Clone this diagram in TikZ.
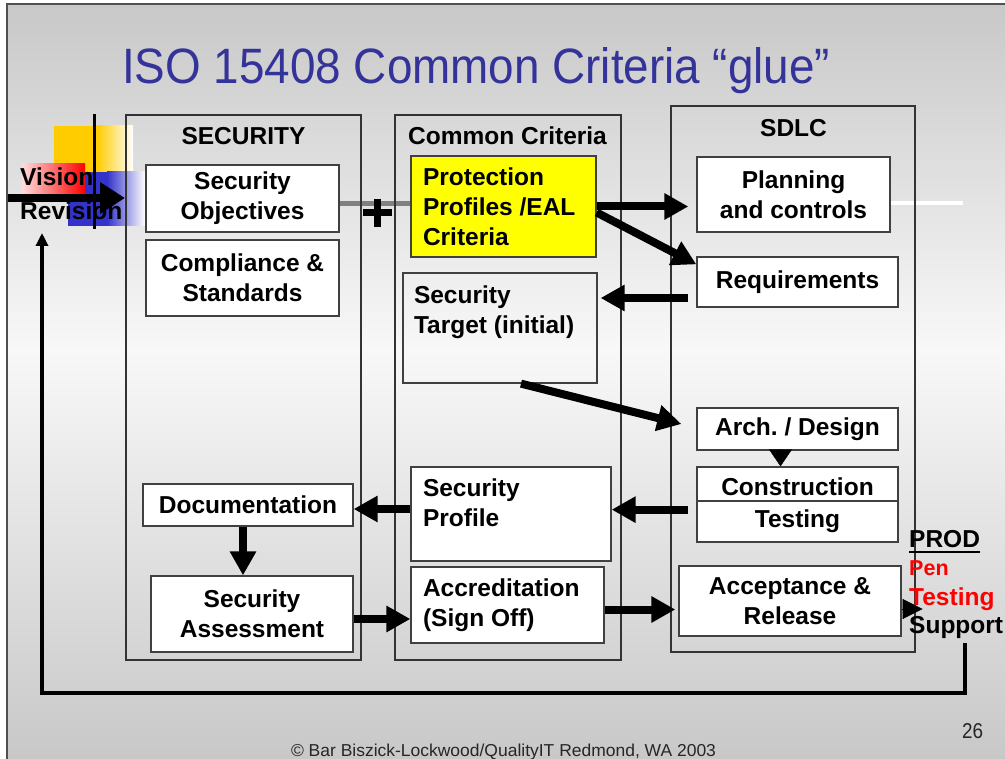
\documentclass[tikz,border=0pt]{standalone}
\usepackage{fontspec}
\setmainfont{Liberation Sans}
\usetikzlibrary{arrows.meta}
\frenchspacing

\definecolor{titleblue}{RGB}{51,51,153}
\definecolor{bgdark}{RGB}{200,200,200}
\definecolor{bglight}{RGB}{248,248,248}
\definecolor{boxline}{RGB}{64,64,64}
\definecolor{ppyellow}{RGB}{255,255,0}
\definecolor{decoyellow}{RGB}{255,204,0}
\definecolor{decoblue}{RGB}{51,51,204}
\definecolor{decopink}{RGB}{255,220,220}
\definecolor{guide}{RGB}{128,128,128}
\definecolor{framegray}{RGB}{80,80,80}

\begin{document}
\begin{tikzpicture}[x=1pt,y=-1pt,
  lbl/.style={font=\fontsize{24.5}{30}\selectfont\bfseries, inner sep=0pt},
  box/.style={draw=boxline, line width=1.3pt, fill=white,
    font=\fontsize{24.5}{30}\selectfont\bfseries, align=center, inner sep=0pt},
  lbox/.style={box, align=flush left, inner xsep=12pt},
  column/.style={draw=black!80, line width=1.1pt, inner sep=0pt},
  bigarrow/.style={line width=8pt, -{Triangle[width=25pt,length=24pt]}},
  tiparrow/.style={line width=0.4pt, -{Triangle[width=20pt,length=20pt]}},
  fbarrow/.style={line width=3.5pt, -{Triangle[width=12pt,length=13pt]}},
]
\useasboundingbox (0,0) rectangle (1005,759);

% slide background
\fill[white] (0,0) rectangle (1005,759);
\shade[top color=bgdark, bottom color=bglight] (7,4) rectangle (1005,350);
\shade[top color=bglight, bottom color=bgdark] (7,350) rectangle (1005,759);
\draw[framegray, line width=1.5pt] (7,759) -- (7,4) -- (1005,4);

% template guide lines
\draw[guide, line width=4.5pt] (125,203.5) -- (411,203.5);
\draw[white, line width=4pt] (890,203) -- (963,203);

% title
\node[anchor=base west, inner sep=0pt, text=titleblue] (title) at (122,84)
  {\resizebox{708pt}{36pt}{\fontsize{46}{46}\selectfont ISO 15408 Common Criteria “glue”}};

% corner decoration
\fill[decoyellow] (54,126) rectangle (97,172);
\shade[left color=decoyellow, right color=white] (97,126) rectangle (133,172);
\fill[decoblue] (68,172) rectangle (107,226);
\shade[left color=decoblue, right color=white] (107,172) rectangle (145,226);
\shade[left color=decopink, right color=red] (22,164) rectangle (85,197);
\draw[black, line width=3pt] (94,114) -- (94,229);
\coordinate (vstart) at (8,198);
\coordinate (vend) at (125,198);
\draw[line width=8pt, -{Triangle[width=30pt,length=25pt]}] (vstart) -- (vend);
\node[lbl, anchor=base west] (vision) at (20,186) {Vision};
\node[lbl, anchor=base west] (revision) at (20,220) {Revision};

% columns
\node[column, minimum width=235pt, minimum height=545pt] (colsec) at (243.5,387.5) {};
\node[column, minimum width=226pt, minimum height=545pt] (colcc) at (508,387.5) {};
\node[column, minimum width=244pt, minimum height=546pt] (colsdlc) at (793,379) {};
\node[lbl, anchor=base] (hsec) at (243.5,145) {SECURITY};
\node[lbl, anchor=base] (hcc) at (507.5,145) {Common Criteria};
\node[lbl, anchor=base] (hsdlc) at (793.5,137) {SDLC};

% plus sign
\draw[line width=7pt] (363,213) -- (392,213);
\draw[line width=7pt] (377.5,199) -- (377.5,227);

% security column
\node[box, minimum width=193pt, minimum height=67pt] (secobj) at (242.5,198.5) {Security\\Objectives};
\node[box, minimum width=193pt, minimum height=76pt] (comp) at (242.5,278) {Compliance \&\\Standards};
\node[box, minimum width=210pt, minimum height=42pt] (doc) at (248,505) {Documentation};
\node[box, minimum width=202pt, minimum height=76pt] (sa) at (252,614) {Security\\Assessment};

% common criteria column
\node[lbox, fill=ppyellow, minimum width=185pt, minimum height=101pt, text width=161pt] (prot) at (503.5,206.5)
  {Protection\\Profiles /EAL\\Criteria};
\node[lbox, fill=none, inner xsep=11pt, minimum width=194pt, minimum height=110pt, text width=172pt] (st) at (500,328)
  {Security\\Target (initial)\\[6pt]\mbox{}};
\node[lbox, minimum width=200pt, minimum height=94pt, text width=176pt] (spro) at (511,514)
  {Security\\Profile\\[-7pt]\mbox{}};
\node[lbox, minimum width=193pt, minimum height=76pt, text width=169pt] (acc) at (507.5,605)
  {Accreditation\\(Sign Off)};

% sdlc column
\node[box, minimum width=193pt, minimum height=75pt] (plan) at (793.5,194.5) {Planning\\and controls};
\node[box, minimum width=201pt, minimum height=50pt] (req) at (797.5,282) {Requirements};
\node[box, minimum width=201pt, minimum height=42pt] (arch) at (797.5,429) {Arch. / Design};
\node[box, minimum width=201pt, minimum height=34pt, text height=24pt] (constr) at (797.5,484) {Construction};
\node[box, minimum width=201pt, minimum height=41pt] (test) at (797.5,521.5) {Testing};
\node[box, minimum width=222pt, minimum height=70pt] (accept) at (790,601) {Acceptance \&\\Release};

% production
\node[lbl, anchor=base west] (prod) at (909,547) {PROD};
\draw[line width=2.8pt] ([yshift=-5pt]prod.base west) -- ([yshift=-5pt]prod.base east);
\node[lbl, anchor=base west, text=red, font=\fontsize{21.5}{26}\selectfont\bfseries] (pen) at (909,575) {Pen};
\node[lbl, anchor=base west, text=red] (testing) at (909,605) {Testing};
\node[lbl, anchor=base west] (support) at (909,633) {Support};

% connectors
\draw[bigarrow, shorten >=8pt] (prot.east) -- (prot.east -| plan.west);
\draw[bigarrow] ([yshift=-6pt]prot.east) -- ([yshift=-8pt]req.north west);
\coordinate (a4) at ([yshift=-16pt]req.west);
\draw[bigarrow, shorten <=8pt, shorten >=3pt] (a4) -- (a4 -| st.east);
\draw[bigarrow] ([xshift=21pt]st.south) -- ([xshift=-15pt,yshift=5pt]arch.west);
\coordinate (a12) at ([xshift=-17pt]arch.south);
\draw[line width=0.4pt, -{Triangle[width=23pt,length=17pt]}] (a12) -- (a12 |- constr.north);
\coordinate (a6) at ([yshift=-8pt]constr.south west);
\draw[bigarrow, shorten <=8pt] (a6) -- (a6 -| spro.east);
\coordinate (a7) at ([yshift=5pt]spro.west);
\draw[bigarrow] (a7) -- (a7 -| doc.east);
\coordinate (a8) at ([xshift=-5pt]doc.south);
\draw[bigarrow] (a8) -- (a8 |- sa.north);
\coordinate (a9) at ([yshift=-5pt]sa.east);
\draw[bigarrow] (a9) -- (a9 -| acc.west);
\coordinate (a10) at ([yshift=-4.5pt]acc.east);
\draw[bigarrow, shorten >=3pt] (a10) -- (a10 -| accept.west);
\coordinate (a11) at ([yshift=-8pt]accept.east);
\draw[tiparrow] (a11) -- ++(21,0);

% feedback loop back to the vision
\coordinate (fbtop) at (965,643);
\coordinate (fbend) at (42,233);
\draw[fbarrow] (fbtop) -- ++(0,50) -| (fbend);

% footer
\node[anchor=base west, inner sep=0pt, text=black!85] (pagenum) at (962,738)
  {\resizebox{21pt}{15pt}{\fontsize{20}{20}\selectfont 26}};
\node[anchor=base, inner sep=0pt, text=black!85] (footer) at (503.5,756)
  {\resizebox{425pt}{12.5pt}{\fontsize{16}{16}\selectfont © Bar Biszick-Lockwood/QualityIT Redmond, WA 2003}};
\end{tikzpicture}
\end{document}
